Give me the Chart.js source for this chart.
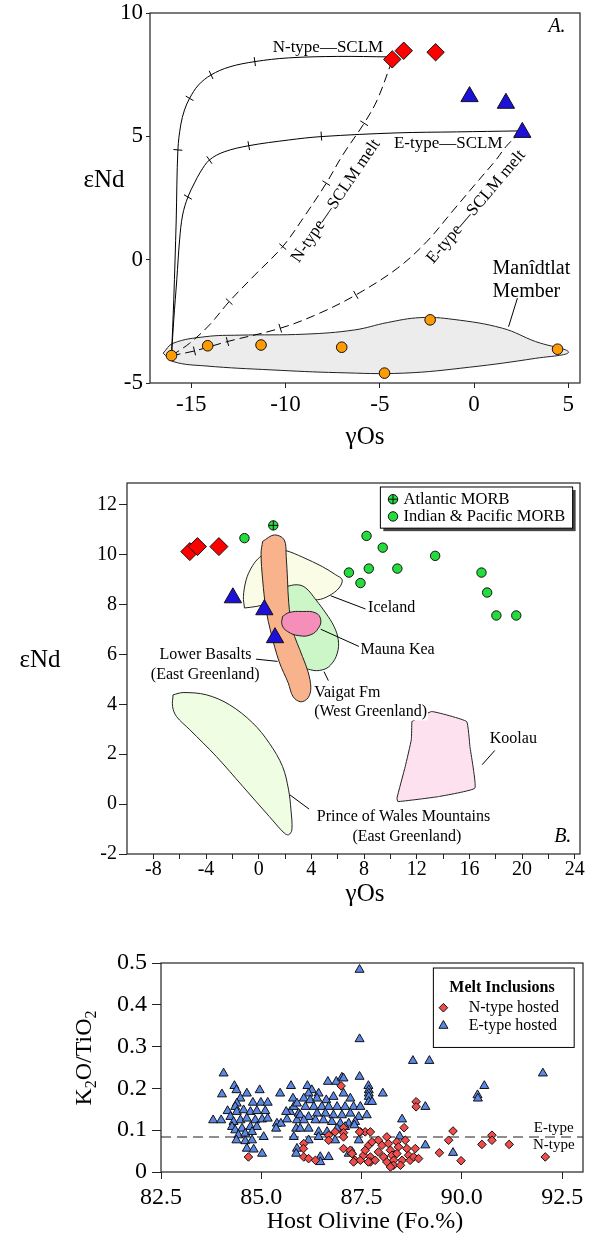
<!DOCTYPE html>
<html lang="en">
<head>
<meta charset="UTF-8"/>
<title>εNd vs γOs and K2O/TiO2 vs host olivine</title>
<script src="https://cdn.jsdelivr.net/npm/chart.js"></script>
<style>
  * { box-sizing: border-box; }
  body { margin: 0; background: #fff; }
  .page { position: relative; width: 591px; height: 1240px; }
  .panel { position: absolute; left: 0; width: 591px; }
  #pa { top: 0; height: 460px; }
  #pb { top: 460px; height: 450px; }
  #pc { top: 910px; height: 330px; }
</style>
</head>
<body>
<div class="page">
  <div class="panel" id="pa"><canvas id="chartA"></canvas></div>
  <div class="panel" id="pb"><canvas id="chartB"></canvas></div>
  <div class="panel" id="pc"><canvas id="chartC"></canvas></div>
</div>
<script>
// ---------- Panel A: eNd vs gOs, mixing models ----------
const aXTicks = [-15, -10, -5, 0, 5];
const aYTicks = [-5, 0, 5, 10];
const aManidtlat = [[-16.05,-3.89],[-14.13,-3.49],[-11.30,-3.46],[-7.02,-3.55],[-2.33,-2.44],[-4.75,-4.60],[4.43,-3.63]];
const aNType = [[-4.34,8.12],[-3.73,8.47],[-2.04,8.41]];
const aEType = [[-0.24,6.61],[1.69,6.34],[2.56,5.16]];
const aNCurve = [[-16.05,-3.89],[-15.93,-1.63],[-15.80,1.61],[-15.71,4.45],[-15.56,5.46],[-15.36,6.07],[-15.09,6.54],
  [-14.62,7.08],[-13.95,7.49],[-12.99,7.81],[-11.63,8.03],[-9.85,8.18],[-7.23,8.24],[-4.50,8.22]];
const aECurve = [[-16.05,-3.89],[-15.93,-2.44],[-15.77,-0.82],[-15.62,0.80],[-15.46,1.81],[-15.18,2.54],[-14.83,3.11],
  [-14.52,3.55],[-14.04,4.04],[-13.26,4.37],[-11.95,4.62],[-9.85,4.85],[-8.10,4.99],[-4.08,5.14],[-0.93,5.18],[2.37,5.22]];
const aNMelt = [[-16.05,-3.89],[-15.09,-3.39],[-14.04,-2.65],[-12.99,-1.70],[-11.68,-0.66],[-10.15,0.53],[-9.06,1.69],
  [-7.84,3.10],[-6.97,4.24],[-5.83,5.53],[-5.14,6.47],[-4.45,7.85]];
const aEMelt = [[-16.05,-3.89],[-14.83,-3.70],[-13.08,-3.32],[-10.28,-2.78],[-8.28,-2.20],[-6.27,-1.43],[-4.07,-0.35],
  [-2.51,0.73],[-1.18,1.93],[0.11,3.10],[1.16,4.04],[1.69,4.58],[2.47,5.18]];
const aNCurveTicks = [[-15.71,4.45],[-15.09,6.54],[-13.95,7.49],[-11.63,8.03]];
const aECurveTicks = [[-15.18,2.54],[-14.04,4.04],[-11.95,4.62],[-8.10,5.01]];
const aNMeltTicks = [[-12.99,-1.70],[-10.15,0.53],[-7.84,3.10],[-5.83,5.53]];
const aEMeltTicks = [[-14.83,-3.70],[-13.08,-3.32],[-10.28,-2.78],[-6.27,-1.43]];
const aEnvelope = [[-16.49,-3.79],[-15.97,-3.39],[-14.22,-3.12],[-12.47,-3.06],[-8.97,-3.02],[-6.35,-2.85],[-4.60,-2.55],
  [-2.86,-2.35],[-1.11,-2.42],[1.51,-2.78],[3.26,-3.32],[5.01,-3.75],[3.26,-4.00],[-0.24,-4.36],[-3.73,-4.60],
  [-7.23,-4.58],[-10.72,-4.47],[-14.22,-4.31],[-15.97,-4.13]];

// ---------- Panel B: eNd vs gOs, comparison fields ----------
const bXTicks = [-8,-6,-4,-2,0,2,4,6,8,10,12,14,16,18,20,22,24];
const bYTicks = [-2, 0, 2, 4, 6, 8, 10, 12];
const bNType = [[-5.23,10.12],[-4.65,10.32],[-3.02,10.32]];
const bEType = [[-1.96,8.27],[0.43,7.79],[1.24,6.67]];
const bAtlanticMorb = [[1.11,11.17]];
const bIndianPacificMorb = [[-1.08,10.66],[8.19,10.75],[9.42,10.28],[13.40,9.95],[6.85,9.28],[8.36,9.44],[10.53,9.44],
  [7.73,8.86],[16.92,9.28],[17.35,8.48],[18.05,7.56],[19.56,7.56]];
const bIceland = [[-1.08,7.86],[-1.16,8.32],[-0.95,8.99],[-0.57,9.46],[-0.08,9.82],[0.56,10.06],[1.31,10.19],[2.07,10.16],
  [3.32,9.90],[4.83,9.52],[5.85,9.19],[6.34,8.99],[6.10,8.66],[5.34,8.35],[4.46,8.19],[2.82,8.26],[1.06,8.06],[-0.20,7.92]];
const bVaigat = [[2.07,8.72],[2.95,8.79],[3.58,8.66],[4.34,8.19],[5.09,7.66],[5.72,7.12],[6.04,6.59],[5.97,6.05],
  [5.47,5.58],[4.83,5.38],[3.96,5.38],[2.82,5.65],[2.32,6.72],[2.07,7.79]];
const bLowerBasalts = [[0.30,10.53],[1.19,10.79],[1.94,10.59],[2.09,9.92],[2.19,8.99],[2.28,8.07],[2.57,6.99],[3.32,5.92],
  [3.75,5.30],[3.96,4.66],[3.75,4.26],[3.20,4.10],[2.62,4.30],[2.24,4.86],[1.56,5.70],[0.94,6.85],[0.56,7.79],[0.30,8.99],[0.18,10.06]];
const bMaunaKea = [[1.81,7.52],[2.32,7.68],[3.32,7.72],[4.34,7.66],[4.71,7.39],[4.53,7.05],[3.96,6.79],[3.07,6.75],[2.19,6.92],[1.77,7.19]];
const bPrinceWales = [[-6.50,4.38],[-5.74,4.47],[-3.97,4.38],[-2.21,3.98],[-0.45,3.25],[0.81,2.44],[1.81,1.51],[2.27,0.57],
  [2.45,-0.23],[2.52,-1.03],[2.27,-1.23],[1.94,-1.16],[0.81,-0.50],[-1.21,0.71],[-3.22,1.91],[-5.23,2.98],[-6.24,3.51],[-6.54,3.91]];
const bKoolau = [[11.63,3.31],[13.14,3.71],[15.79,3.31],[16.04,2.31],[16.42,0.64],[13.65,0.30],[10.57,0.10],[10.50,0.24],[11.13,1.51],[11.59,2.58]];

// ---------- Panel C: melt inclusions ----------
const cXTicks = [82.5, 85, 87.5, 90, 92.5];
const cYTicks = [0, 0.1, 0.2, 0.3, 0.4, 0.5];
const cDivide = 0.084;
const cETypeHosted = [
  [87.45,0.484],[87.45,0.318],[87.45,0.228],[88.78,0.266],[89.19,0.266],[92.02,0.236],[84.06,0.236],[84.33,0.206],
  [84.96,0.196],[85.74,0.206],[86.15,0.206],[86.66,0.216],[86.87,0.216],[87.01,0.226],[87.05,0.224],[87.67,0.206],
  [90.56,0.206],[90.39,0.184],[90.40,0.176],[89.78,0.046],[88.45,0.085],
  [84.38,0.196],[84.64,0.188],[84.02,0.186],[84.48,0.176],[84.39,0.164],[84.79,0.166],[84.99,0.166],[85.16,0.166],
  [84.16,0.146],[84.35,0.156],[84.39,0.144],[84.56,0.148],[84.73,0.144],[84.89,0.146],[85.10,0.146],[83.80,0.124],
  [84.00,0.124],[84.23,0.132],[84.31,0.120],[84.48,0.124],[84.64,0.128],[84.85,0.124],[85.02,0.126],[85.16,0.128],
  [84.27,0.108],[84.35,0.100],[84.52,0.104],[84.73,0.108],[84.89,0.108],[84.43,0.088],[84.60,0.092],[84.77,0.096],
  [85.06,0.084],[84.38,0.076],[84.60,0.074],[84.77,0.076],[84.64,0.056],[84.81,0.054],[85.02,0.044],[85.39,0.116],
  [85.49,0.116],[85.37,0.104],[85.64,0.126],[85.72,0.144],[85.81,0.156],[85.62,0.144],[85.47,0.188],[85.79,0.176],
  [85.89,0.164],[85.93,0.140],[85.89,0.124],[85.87,0.104],[85.81,0.084],[85.89,0.056],[85.87,0.044],
  [86.26,0.196],[86.43,0.188],[86.18,0.188],[86.06,0.176],[86.22,0.172],[86.39,0.176],[86.62,0.172],[86.80,0.180],
  [87.05,0.188],[87.22,0.176],[87.68,0.196],[87.68,0.188],[87.68,0.180],[87.68,0.168],[87.76,0.168],[88.03,0.188],
  [86.10,0.156],[86.31,0.156],[86.51,0.156],[86.68,0.156],[86.89,0.156],[87.09,0.156],[87.30,0.156],[87.47,0.156],
  [87.63,0.136],[85.97,0.136],[86.18,0.132],[86.39,0.140],[86.60,0.140],[86.80,0.136],[87.01,0.136],[87.22,0.140],
  [87.43,0.132],[86.06,0.124],[86.35,0.124],[86.55,0.124],[86.76,0.120],[86.97,0.116],[87.18,0.116],[87.34,0.120],
  [85.97,0.104],[86.18,0.104],[86.43,0.096],[86.64,0.096],[86.89,0.104],[87.09,0.108],[87.32,0.112],[86.18,0.076],
  [86.43,0.084],[86.84,0.076],[87.43,0.076],[88.51,0.126],[89.09,0.156],[89.09,0.064],[86.47,0.036],[86.47,0.024],
  [86.68,0.036],[87.18,0.044],[87.26,0.048]];
const cNTypeHosted = [
  [86.99,0.206],[84.68,0.036],[88.86,0.168],[88.86,0.156],[88.56,0.106],[87.05,0.106],[87.05,0.094],[87.05,0.084],
  [86.84,0.096],[86.68,0.088],[86.68,0.076],[86.06,0.068],[86.05,0.056],[86.06,0.036],[86.18,0.032],[86.35,0.028],
  [87.05,0.056],[87.22,0.052],[87.26,0.044],[87.47,0.096],[87.59,0.096],[87.72,0.096],[87.34,0.028],[87.47,0.028],
  [87.55,0.040],[87.59,0.052],[87.68,0.064],[87.76,0.072],[87.72,0.036],[87.72,0.024],[87.92,0.076],[88.01,0.064],
  [87.92,0.048],[88.05,0.036],[88.13,0.084],[88.17,0.068],[88.22,0.052],[88.26,0.040],[88.30,0.028],[88.38,0.072],
  [88.42,0.060],[88.38,0.044],[88.51,0.028],[88.59,0.076],[88.63,0.056],[88.67,0.040],[88.71,0.028],[88.84,0.056],
  [88.80,0.036],[88.92,0.032],[88.30,0.016],[88.47,0.016],[87.84,0.028],[88.13,0.024],[88.22,0.012],[89.78,0.098],
  [89.67,0.076],[89.44,0.046],[89.98,0.027],[90.50,0.066],[90.75,0.088],[90.75,0.076],[91.18,0.066],[92.08,0.036],
  [87.45,0.096],[87.30,0.024],[87.67,0.024]];

// ---------- shared helpers ----------
const SERIF = '"Liberation Serif", "DejaVu Serif", serif';
Chart.defaults.font.family = SERIF;
Chart.defaults.animation = false;
Chart.defaults.events = [];
Chart.defaults.plugins.legend.display = false;
Chart.defaults.plugins.tooltip.enabled = false;

const xy = a => a.map(([x, y]) => ({x, y}));
const loop = a => xy(a.concat([a[0]]));

function scaleCfg(o) {
  return {
    type: 'linear', position: o.pos, min: o.min, max: o.max,
    grid: { drawOnChartArea: false, drawTicks: true, tickLength: o.tl, tickColor: '#222', tickWidth: 1 },
    border: { display: false },
    ticks: { color: '#000', padding: o.pad, autoSkip: false, maxRotation: 0,
             font: { size: o.size, lineHeight: 1 }, callback: o.fmt },
    afterBuildTicks: s => { s.ticks = o.ticks.map(v => ({value: v})); },
    afterFit: s => {
      if (o.pos === 'left') s.width = o.fit; else s.height = o.fit;
      s.paddingLeft = s.paddingRight = s.paddingTop = s.paddingBottom = 0;
    }
  };
}
function pts(data, style, r, fill, order) {
  return { data: xy(data), showLine: false, pointStyle: style, pointRadius: r,
           pointBackgroundColor: fill, pointBorderColor: '#111', pointBorderWidth: 1, order };
}
function curve(data, dash, order) {
  return { data: xy(data), showLine: true, borderColor: '#000', borderWidth: 1, borderDash: dash,
           tension: 0.35, pointRadius: 0, fill: false, order };
}
function region(data, fill, order, tension) {
  return { data: loop(data), showLine: true, fill: 'shape', backgroundColor: fill, borderColor: '#222',
           borderWidth: 1, tension: tension, pointRadius: 0, order };
}
function tickMarks(data, rot, order) {
  return { data: xy(data), showLine: false, pointStyle: 'line', pointRadius: 4.5, pointRotation: rot,
           pointBorderColor: '#000', pointBorderWidth: 1, order };
}

function drawText(ctx, s, x, y, o) {
  ctx.save();
  ctx.font = (o.italic ? 'italic ' : '') + (o.bold ? 'bold ' : '') + o.size + 'px ' + SERIF;
  ctx.textAlign = o.align || 'center';
  ctx.textBaseline = 'middle';
  ctx.translate(x, y);
  if (o.rot) ctx.rotate(o.rot * Math.PI / 180);
  if (o.bg) {
    const w = ctx.measureText(s).width;
    ctx.fillStyle = '#fff';
    ctx.fillRect(o.align === 'left' ? -1 : -w / 2 - 1, -o.size * 0.55, w + 2, o.size * 1.1);
  }
  ctx.fillStyle = '#000';
  ctx.fillText(s, 0, 0);
  ctx.restore();
}
function drawSym(ctx, kind, x, y, r, fill) {
  ctx.save();
  ctx.beginPath();
  if (kind === 'circle' || kind === 'crossCircle') ctx.arc(x, y, r, 0, Math.PI * 2);
  if (kind === 'diamond') { ctx.moveTo(x, y - r); ctx.lineTo(x + r, y); ctx.lineTo(x, y + r); ctx.lineTo(x - r, y); ctx.closePath(); }
  if (kind === 'triangle') { ctx.moveTo(x, y - r); ctx.lineTo(x + r * 0.866, y + r / 2); ctx.lineTo(x - r * 0.866, y + r / 2); ctx.closePath(); }
  ctx.fillStyle = fill; ctx.fill();
  ctx.strokeStyle = '#111'; ctx.lineWidth = 1; ctx.stroke();
  if (kind === 'crossCircle') {
    ctx.beginPath(); ctx.moveTo(x - r, y); ctx.lineTo(x + r, y); ctx.moveTo(x, y - r); ctx.lineTo(x, y + r); ctx.stroke();
  }
  ctx.restore();
}

// annotations: data-space items go through the chart scales, 'p' items are canvas pixels
function decor(items) {
  return {
    id: 'decor',
    afterDatasetsDraw(c) {
      const ctx = c.ctx, a = c.chartArea;
      const X = v => c.scales.x.getPixelForValue(v), Y = v => c.scales.y.getPixelForValue(v);
      ctx.save();
      ctx.strokeStyle = '#222'; ctx.lineWidth = 1.2;
      ctx.strokeRect(a.left, a.top, a.right - a.left, a.bottom - a.top);
      items.forEach(it => {
        if (it.k === 't') drawText(ctx, it.s, X(it.x), Y(it.y), it);
        else if (it.k === 'p') drawText(ctx, it.s, it.x, it.y, it);
        else if (it.k === 'l') {
          ctx.beginPath(); ctx.moveTo(X(it.x1), Y(it.y1)); ctx.lineTo(X(it.x2), Y(it.y2));
          ctx.strokeStyle = '#000'; ctx.lineWidth = 1; ctx.stroke();
        } else if (it.k === 'box') {
          const x1 = X(it.x1), y1 = Y(it.y1), w = X(it.x2) - x1, h = Y(it.y2) - y1;
          if (it.shadow) { ctx.fillStyle = '#444'; ctx.fillRect(x1 + 3, y1 + 3, w, h); }
          ctx.fillStyle = '#fff'; ctx.fillRect(x1, y1, w, h);
          ctx.strokeStyle = '#000'; ctx.lineWidth = 1; ctx.strokeRect(x1, y1, w, h);
        } else if (it.k === 'sym') drawSym(ctx, it.kind, X(it.x), Y(it.y), it.r, it.fill);
        else if (it.k === 'sub') {
          // rotated title with subscripts
          ctx.save();
          ctx.translate(it.x, it.y); ctx.rotate(-Math.PI / 2);
          ctx.textBaseline = 'alphabetic'; ctx.fillStyle = '#000';
          let w = 0;
          it.parts.forEach(([s, sz]) => { ctx.font = sz + 'px ' + SERIF; w += ctx.measureText(s).width; });
          let cx = -w / 2;
          it.parts.forEach(([s, sz, dy]) => {
            ctx.font = sz + 'px ' + SERIF; ctx.fillText(s, cx, it.base + dy); cx += ctx.measureText(s).width;
          });
          ctx.restore();
        }
      });
      ctx.restore();
    }
  };
}

// ---------- Chart A ----------
new Chart(document.getElementById('chartA'), {
  type: 'scatter',
  data: { datasets: [
    region(aEnvelope, '#ececec', 20, 0.4),
    curve(aNMelt, [9, 5], 10), curve(aEMelt, [9, 5], 10),
    curve(aNCurve, [], 10), curve(aECurve, [], 10),
    tickMarks(aNCurveTicks, [5, 30, 65, 82], 9),
    tickMarks(aECurveTicks, [30, 55, 80, 86], 9),
    tickMarks(aNMeltTicks, [43, 41, 32, 32], 9),
    tickMarks(aEMeltTicks, [76, 75, 73, 60], 9),
    pts(aManidtlat, 'circle', 5.3, '#ff9a00', 2),
    pts(aEType, 'triangle', 10, '#1d10d8', 1),
    pts(aNType, 'rectRot', 8.7, '#ff0000', 1)
  ]},
  options: {
    responsive: true, maintainAspectRatio: false,
    layout: { padding: { left: 0, right: 6, top: 13, bottom: 0 } },
    scales: {
      x: scaleCfg({ pos: 'bottom', min: -17.19, max: 5.62, ticks: aXTicks, tl: 5, pad: 5, size: 23, fit: 77, fmt: v => String(v) }),
      y: scaleCfg({ pos: 'left', min: -5, max: 10, ticks: aYTicks, tl: 4, pad: 3, size: 23, fit: 150, fmt: v => String(v) })
    }
  },
  plugins: [decor([
    { k: 't', s: 'A.', x: 4.40, y: 9.44, size: 20, italic: true },
    { k: 't', s: 'N-type—SCLM', x: -7.75, y: 8.58, size: 17 },
    { k: 't', s: 'E-type—SCLM', x: -1.37, y: 4.72, size: 17 },
    { k: 't', s: 'N-type—SCLM melt', x: -7.33, y: 2.38, size: 17, rot: -55.8 },
    { k: 't', s: 'E-type—SCLM melt', x: 0.11, y: 2.14, size: 17, rot: -49.7 },
    { k: 't', s: 'Manîdtlat', x: 0.98, y: -0.35, size: 20, align: 'left' },
    { k: 't', s: 'Member', x: 0.98, y: -1.30, size: 20, align: 'left' },
    { k: 'l', x1: 2.30, y1: -1.56, x2: 1.83, y2: -2.72 },
    { k: 'p', s: 'εNd', x: 104, y: 180, size: 25 },
    { k: 'p', s: 'γOs', x: 365, y: 437, size: 25 }
  ])]
});

// ---------- Chart B ----------
new Chart(document.getElementById('chartB'), {
  type: 'scatter',
  data: { datasets: [
    region(bPrinceWales, '#effde2', 20, 0.35),
    region(bKoolau, '#fde1ee', 20, 0.1),
    region(bIceland, '#fbfce6', 19, 0.35),
    region(bVaigat, '#ccf6c8', 18, 0.4),
    region(bLowerBasalts, '#f8b28c', 17, 0.35),
    region(bMaunaKea, '#f58fba', 16, 0.45),
    pts(bIndianPacificMorb, 'circle', 4.7, '#22dd3c', 3),
    pts(bAtlanticMorb, 'circle', 4.7, '#22dd3c', 3),
    pts(bAtlanticMorb, 'cross', 4.7, '#22dd3c', 2),
    pts(bEType, 'triangle', 10, '#1d10d8', 1),
    pts(bNType, 'rectRot', 9, '#ff0000', 1)
  ]},
  options: {
    responsive: true, maintainAspectRatio: false,
    layout: { padding: { left: 0, right: 9, top: 23, bottom: 0 } },
    scales: {
      x: scaleCfg({ pos: 'bottom', min: -10, max: 24.4, ticks: bXTicks, tl: 5, pad: 1, size: 20, fit: 56,
                    fmt: v => (v % 4 === 0 ? String(v) : '') }),
      y: scaleCfg({ pos: 'left', min: -2, max: 12.87, ticks: bYTicks, tl: 8, pad: 2, size: 20, fit: 127, fmt: v => String(v) })
    }
  },
  plugins: [decor([
    { k: 'box', x1: 9.24, y1: 12.71, x2: 23.84, y2: 11.06, shadow: true },
    { k: 'sym', kind: 'crossCircle', x: 10.20, y: 12.22, r: 4.7, fill: '#22dd3c' },
    { k: 't', s: 'Atlantic MORB', x: 11.0, y: 12.22, size: 16.5, align: 'left' },
    { k: 'sym', kind: 'circle', x: 10.20, y: 11.53, r: 4.7, fill: '#22dd3c' },
    { k: 't', s: 'Indian & Pacific MORB', x: 11.0, y: 11.53, size: 16.5, align: 'left' },
    { k: 'l', x1: 5.47, y1: 8.35, x2: 8.11, y2: 7.82 },
    { k: 't', s: 'Iceland', x: 8.31, y: 7.86, size: 16, align: 'left' },
    { k: 'l', x1: 4.71, y1: 7.01, x2: 7.61, y2: 6.32 },
    { k: 't', s: 'Mauna Kea', x: 7.73, y: 6.18, size: 16, align: 'left' },
    { k: 'l', x1: -0.20, y1: 5.81, x2: 1.44, y2: 5.72 },
    { k: 't', s: 'Lower Basalts', x: -4.04, y: 5.98, size: 16 },
    { k: 't', s: '(East Greenland)', x: -4.06, y: 5.18, size: 16 },
    { k: 'l', x1: 4.96, y1: 5.31, x2: 5.29, y2: 4.95 },
    { k: 't', s: 'Vaigat Fm', x: 4.21, y: 4.47, size: 16, align: 'left' },
    { k: 't', s: '(West Greenland)', x: 4.21, y: 3.71, size: 16, align: 'left', bg: true },
    { k: 'l', x1: 17.93, y1: 2.15, x2: 16.97, y2: 1.58 },
    { k: 't', s: 'Koolau', x: 17.55, y: 2.62, size: 16, align: 'left' },
    { k: 'l', x1: 2.37, y1: 0.37, x2: 3.83, y2: -0.20 },
    { k: 't', s: 'Prince of Wales Mountains', x: 11.0, y: -0.50, size: 16 },
    { k: 't', s: '(East Greenland)', x: 11.25, y: -1.30, size: 16 },
    { k: 't', s: 'B.', x: 23.09, y: -1.30, size: 20, italic: true },
    { k: 'p', s: 'εNd', x: 40, y: 200, size: 25 },
    { k: 'p', s: 'γOs', x: 365, y: 434, size: 25 }
  ])]
});

// ---------- Chart C ----------
new Chart(document.getElementById('chartC'), {
  type: 'scatter',
  data: { datasets: [
    { data: [{x: 82.5, y: cDivide}, {x: 93.02, y: cDivide}], showLine: true, borderColor: '#6a6a6a',
      borderWidth: 1.5, borderDash: [10, 6], pointRadius: 0, fill: false, order: 5 },
    pts(cETypeHosted, 'triangle', 5.2, '#5b87e6', 2),
    pts(cNTypeHosted, 'rectRot', 4.3, '#f04c4c', 1)
  ]},
  options: {
    responsive: true, maintainAspectRatio: false,
    layout: { padding: { left: 0, right: 8, top: 53, bottom: 0 } },
    scales: {
      x: scaleCfg({ pos: 'bottom', min: 82.5, max: 93.02, ticks: cXTicks, tl: 7, pad: 7, size: 24, fit: 68,
                    fmt: v => v.toFixed(1) }),
      y: scaleCfg({ pos: 'left', min: 0, max: 0.5, ticks: cYTicks, tl: 9, pad: 5, size: 24, fit: 161,
                    fmt: v => (v === 0 ? '0' : v.toFixed(1)) })
    }
  },
  plugins: [decor([
    { k: 'box', x1: 89.29, y1: 0.488, x2: 92.80, y2: 0.298 },
    { k: 't', s: 'Melt Inclusions', x: 91.0, y: 0.440, size: 16, bold: true },
    { k: 'sym', kind: 'diamond', x: 89.54, y: 0.393, r: 4.3, fill: '#f04c4c' },
    { k: 't', s: 'N-type hosted', x: 90.17, y: 0.393, size: 16, align: 'left' },
    { k: 'sym', kind: 'triangle', x: 89.54, y: 0.350, r: 5.2, fill: '#5b87e6' },
    { k: 't', s: 'E-type hosted', x: 90.17, y: 0.350, size: 16, align: 'left' },
    { k: 't', s: 'E-type', x: 92.29, y: 0.104, size: 15 },
    { k: 't', s: 'N-type', x: 92.29, y: 0.064, size: 15 },
    { k: 'sub', x: 83, y: 148, base: 8, parts: [['K', 24, 0], ['2', 16, 5], ['O/TiO', 24, 0], ['2', 16, 5]] },
    { k: 'p', s: 'Host Olivine (Fo.%)', x: 365, y: 312, size: 24 }
  ])]
});
</script>
</body>
</html>
